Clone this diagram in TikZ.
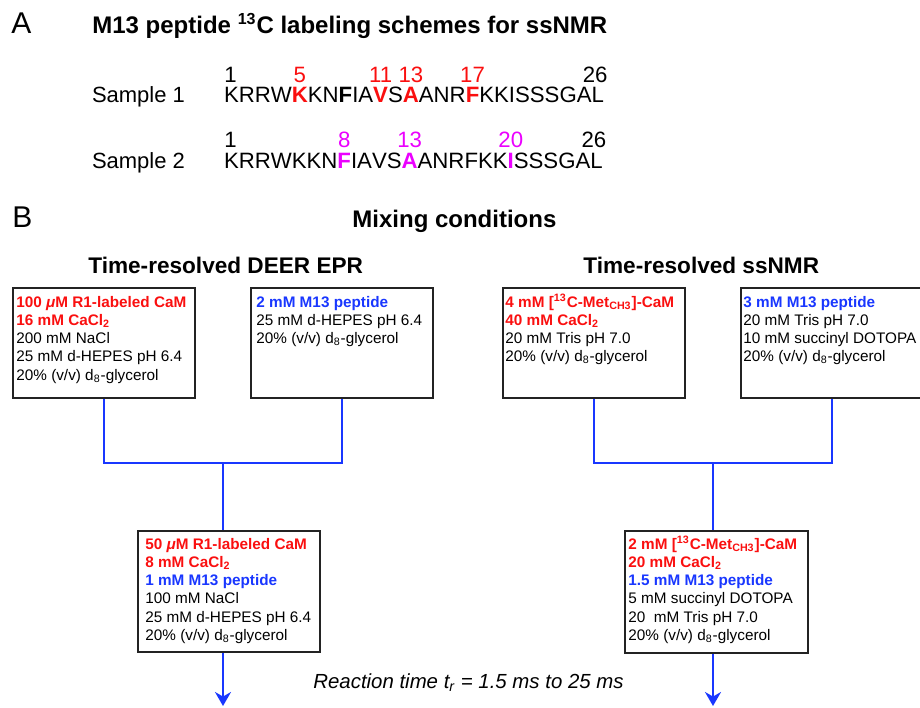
\documentclass[tikz,border=0pt]{standalone}
\usepackage{fontspec}
\setmainfont{Liberation Sans}
\usetikzlibrary{arrows.meta,positioning}

\definecolor{labred}{RGB}{250,15,15}
\definecolor{pepblue}{RGB}{25,55,255}
\definecolor{labmag}{RGB}{235,0,255}
\definecolor{boxgray}{RGB}{35,35,35}

\newcommand{\camln}[1]{{\color{labred}\bfseries #1}}
\newcommand{\pepln}[1]{{\color{pepblue}\bfseries #1}}
\newcommand{\smpcol}[1]{\begin{tabular}[t]{@{}l@{}}#1\end{tabular}}

\tikzset{
  res/.style={inner sep=0pt, outer sep=0pt, anchor=base west, font=\fontsize{11.1}{13}\selectfont},
  resbf/.style={res, font=\fontsize{11.1}{13}\selectfont\bfseries},
  resred/.style={resbf, text=labred},
  resmag/.style={resbf, text=labmag},
  num/.style={inner sep=0pt, anchor=base, font=\fontsize{11.1}{13}\selectfont},
  head/.style={inner sep=0pt, anchor=base west, font=\fontsize{12}{14}\selectfont\bfseries},
  subhead/.style={inner sep=0pt, anchor=base west, font=\fontsize{11.3}{13}\selectfont\bfseries},
  panel/.style={inner sep=0pt, anchor=base west, font=\fontsize{15}{18}\selectfont},
  smpbox/.style={draw=boxgray, line width=1.1pt, minimum width=91pt, minimum height=55pt, anchor=north west, inner sep=0pt},
  smptxt/.style={inner sep=0pt, anchor=base west, font=\fontsize{7.65}{9.15}\selectfont},
  flow/.style={draw=pepblue, line width=1.1pt},
}

\begin{document}
\begin{tikzpicture}[x=0.5pt, y=-0.5pt]
\useasboundingbox (0,0) rectangle (920,707);
\clip (0,0) rectangle (920,707);

% A: labelling schemes
\node[panel] (pa) at (11,33) {A};
\node[head] (ttl) at (92,33) {M13 peptide \textsuperscript{13}C labeling schemes for ssNMR};
\node[res, font=\fontsize{11}{13}\selectfont] (smp1) at (92,102) {Sample 1};
\node[res, font=\fontsize{11}{13}\selectfont] (smp2) at (92,168) {Sample 2};

\node[res, anchor=base east] (sa0) at (224,102) {};
\foreach \ltr/\sty [count=\i] in {K/res,R/res,R/res,W/res,K/resred,K/res,N/res,F/resbf,I/res,A/res,V/resred,S/res,A/resred,A/res,N/res,R/res,F/resred,K/res,K/res,I/res,S/res,S/res,S/res,G/res,A/res,L/res}{
  \pgfmathtruncatemacro{\j}{\i-1}
  \node[\sty] (sa\i) at (sa\j.base east) {\ltr};
}
\node[num, anchor=base west] (na1) at ([yshift=10pt]sa1.base west) {1};
\node[num, text=labred] (na5) at ([yshift=10pt]sa5.base) {5};
\node[num, text=labred] (na11) at ([yshift=10pt]sa11.base) {11};
\node[num, text=labred] (na13) at ([yshift=10pt]sa13.base) {13};
\node[num, text=labred] (na17) at ([yshift=10pt]sa17.base) {17};
\node[num, anchor=base east] (na26) at ([xshift=2pt,yshift=10pt]sa26.base east) {26};

\node[res, anchor=base east] (sb0) at (224,168) {};
\foreach \ltr/\sty [count=\i] in {K/res,R/res,R/res,W/res,K/res,K/res,N/res,F/resmag,I/res,A/res,V/res,S/res,A/resmag,A/res,N/res,R/res,F/res,K/res,K/res,I/resmag,S/res,S/res,S/res,G/res,A/res,L/res}{
  \pgfmathtruncatemacro{\j}{\i-1}
  \node[\sty] (sb\i) at (sb\j.base east) {\ltr};
}
\node[num, anchor=base west] (nb1) at ([yshift=10.5pt]sb1.base west) {1};
\node[num, text=labmag] (nb8) at ([yshift=10.5pt]sb8.base) {8};
\node[num, text=labmag] (nb13) at ([yshift=10.5pt]sb13.base) {13};
\node[num, text=labmag] (nb20) at ([yshift=10.5pt]sb20.base) {20};
\node[num, anchor=base east] (nb26) at ([xshift=2pt,yshift=10.5pt]sb26.base east) {26};

% B: mixing
\node[panel] (pb) at (12,227) {B};
\node[head] (mix) at (352,227) {Mixing conditions};
\node[subhead] (deer) at (88,273) {Time-resolved DEER EPR};
\node[subhead] (ssnmr) at (583,273) {Time-resolved ssNMR};

\node[smpbox] (epr1) at (12,287) {};
\node[smpbox] (epr2) at (250,287) {};
\node[smpbox] (nmr1) at (502,287) {};
\node[smpbox] (nmr2) at (740,287) {};
\node[smpbox, minimum height=60.5pt] (mixepr) at (137,530) {};
\node[smpbox, minimum height=61pt, minimum width=91.5pt] (mixnmr) at (624,530) {};

\node[smptxt] (epr1t) at ([shift={(4,20)}]epr1.north west) {\smpcol{
  \camln{100 \textit{μ}M R1-labeled CaM}\\
  \camln{16 mM CaCl\textsubscript{2}}\\
  200 mM NaCl\\
  25 mM d-HEPES pH 6.4\\
  20\% (v/v) d\textsubscript{8}-glycerol}};
\node[smptxt] (epr2t) at ([shift={(6,20)}]epr2.north west) {\smpcol{
  \pepln{2 mM M13 peptide}\\
  25 mM d-HEPES pH 6.4\\
  20\% (v/v) d\textsubscript{8}-glycerol}};
\node[smptxt] (nmr1t) at ([shift={(3,20)}]nmr1.north west) {\smpcol{
  \camln{4 mM [\textsuperscript{13}C-Met\textsubscript{CH3}]-CaM}\\
  \camln{40 mM CaCl\textsubscript{2}}\\
  20 mM Tris pH 7.0\\
  20\% (v/v) d\textsubscript{8}-glycerol}};
\node[smptxt] (nmr2t) at ([shift={(3,20)}]nmr2.north west) {\smpcol{
  \pepln{3 mM M13 peptide}\\
  20 mM Tris pH 7.0\\
  10 mM succinyl DOTOPA\\
  20\% (v/v) d\textsubscript{8}-glycerol}};
\node[smptxt] (mixeprt) at ([shift={(8,19)}]mixepr.north west) {\smpcol{
  \camln{50 \textit{μ}M R1-labeled CaM}\\
  \camln{8 mM CaCl\textsubscript{2}}\\
  \pepln{1 mM M13 peptide}\\
  100 mM NaCl\\
  25 mM d-HEPES pH 6.4\\
  20\% (v/v) d\textsubscript{8}-glycerol}};
\node[smptxt] (mixnmrt) at ([shift={(4,19)}]mixnmr.north west) {\smpcol{
  \camln{2 mM [\textsuperscript{13}C-Met\textsubscript{CH3}]-CaM}\\
  \camln{20 mM CaCl\textsubscript{2}}\\
  \pepln{1.5 mM M13 peptide}\\
  5 mM succinyl DOTOPA\\
  20\ \ mM Tris pH 7.0\\
  20\% (v/v) d\textsubscript{8}-glycerol}};

% mixing lines
\coordinate (jepr) at (223,463);
\coordinate (jnmr) at (713,463);
\coordinate (eepr) at (223,706);
\coordinate (enmr) at (713,706);
\draw[flow] (epr1.south) |- (jepr) -| (epr2.south);
\draw[flow] (nmr1.south) |- (jnmr) -| (nmr2.south);
\draw[flow] (jepr) -- (jepr |- mixepr.north);
\draw[flow] (jnmr) -- (jnmr |- mixnmr.north);
\draw[flow, -{Stealth[length=7pt,width=8pt]}] (jepr |- mixepr.south) -- (eepr);
\draw[flow, -{Stealth[length=7pt,width=8pt]}] (jnmr |- mixnmr.south) -- (enmr);

\node[inner sep=0pt, anchor=base west, font=\fontsize{10.2}{12}\selectfont\itshape] (rtime) at (313,688) {Reaction time t\textsubscript{r} = 1.5 ms to 25 ms};
\end{tikzpicture}
\end{document}
